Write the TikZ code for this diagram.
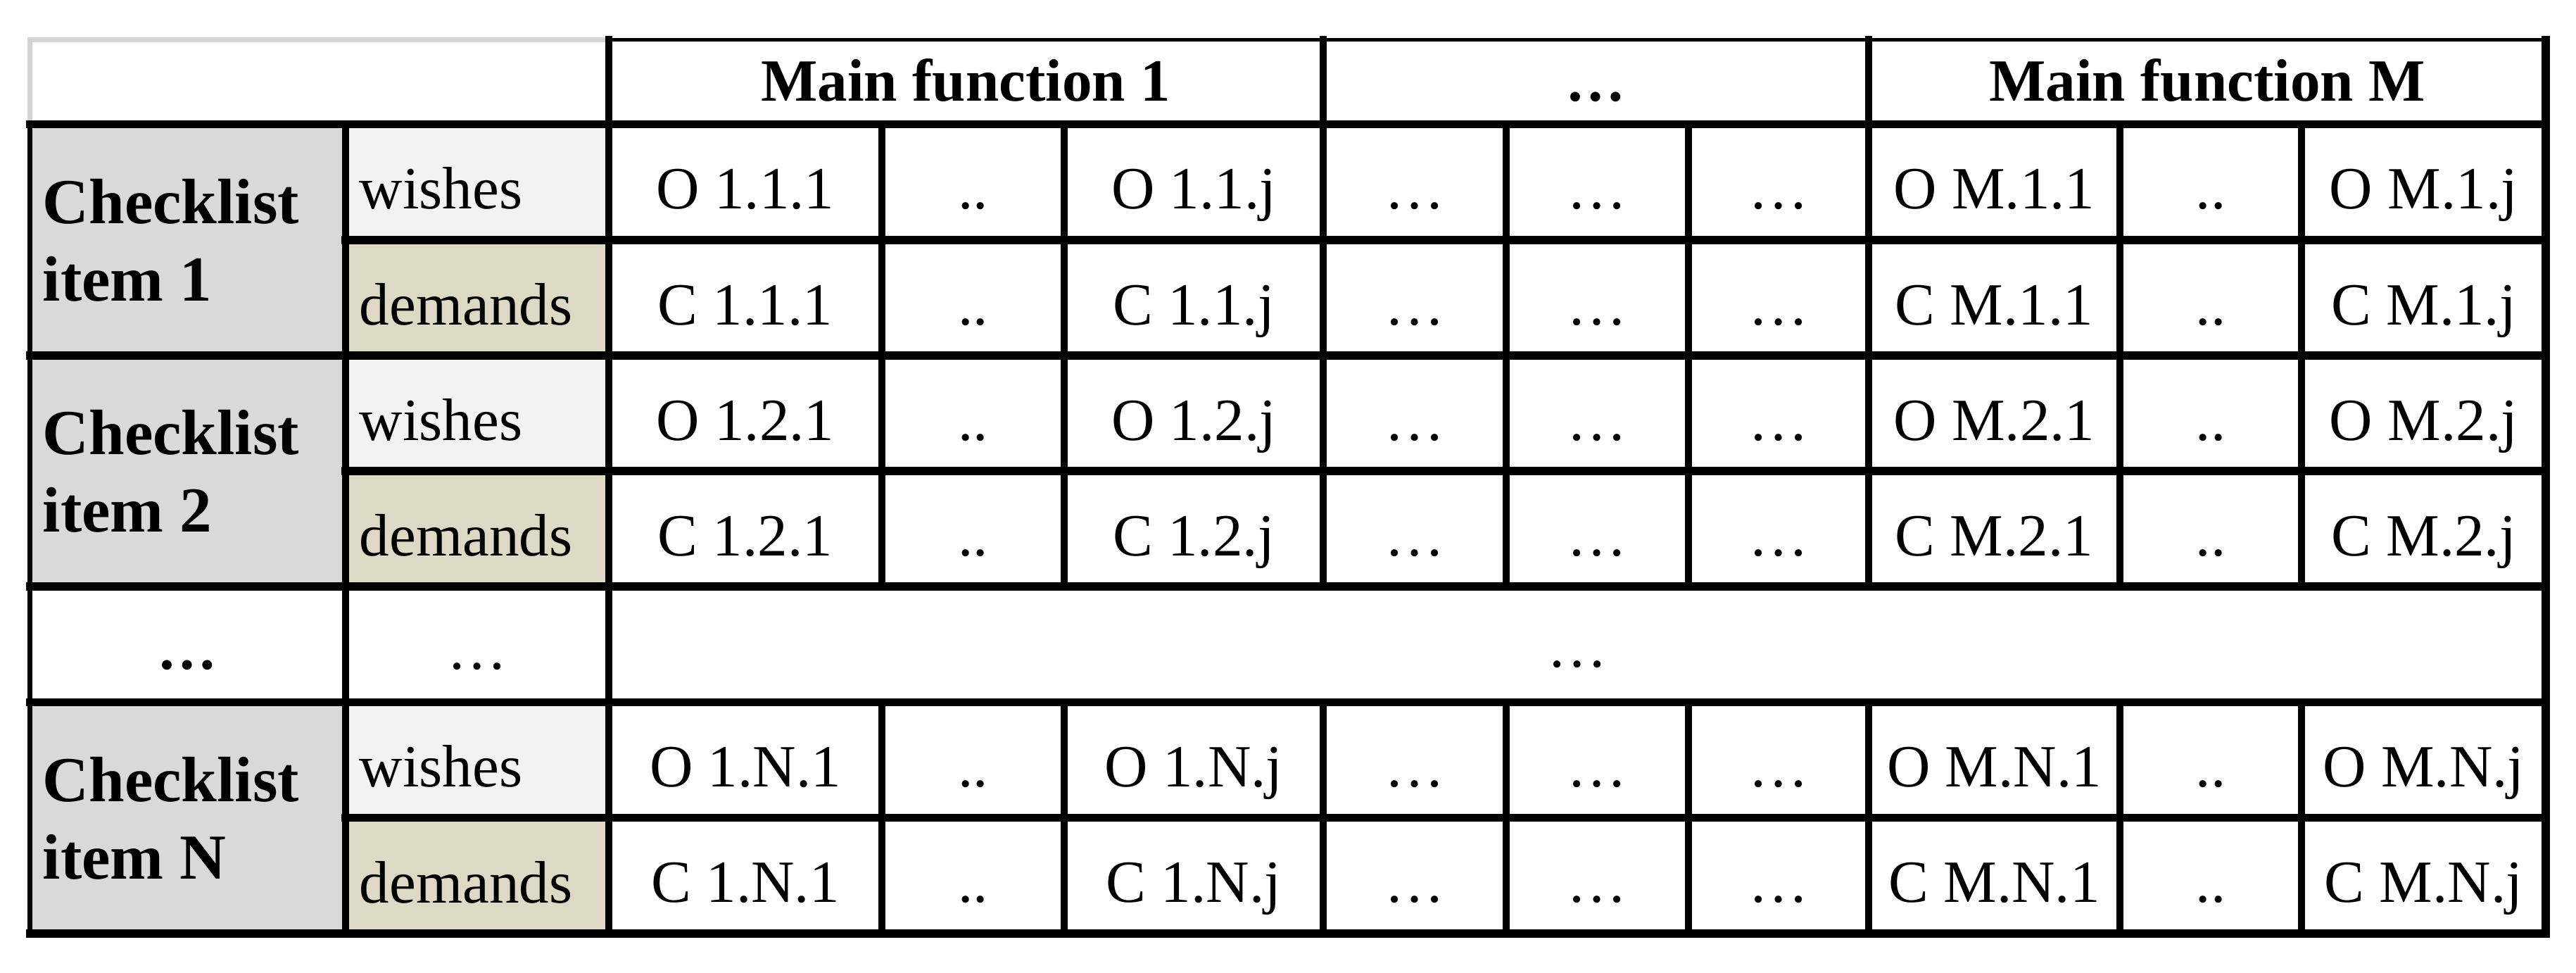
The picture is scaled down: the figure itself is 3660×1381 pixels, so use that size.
\documentclass[tikz,border=0pt]{standalone}
\usepackage{fontspec}
\setmainfont{Liberation Serif}
\definecolor{ckgray}{HTML}{D9D9D9}
\definecolor{wishgray}{HTML}{F2F2F2}
\definecolor{demtan}{HTML}{DDD9C4}
\definecolor{edgegray}{HTML}{D4D4D4}
\tikzset{
  cell/.style={anchor=base, inner sep=0pt, font=\fontsize{24.2}{29}\selectfont},
  hdr/.style={anchor=base, inner sep=0pt, font=\fontsize{24.2}{29}\selectfont\bfseries},
  ck/.style={anchor=base west, inner sep=0pt, font=\fontsize{25.9}{31}\selectfont\bfseries},
  lbl/.style={anchor=base west, inner sep=0pt, font=\fontsize{24.2}{29}\selectfont},
  hline/.style={line width=3.4pt, line cap=rect},
  vline/.style={line width=3.1pt, line cap=rect},
}
\begin{document}
\begin{tikzpicture}[x=0.01cm, y=-0.01cm]
\useasboundingbox (0,0) rectangle (3660,1381);
% column lines
\def\xa{42.5}\def\xb{491}\def\xc{865}\def\xd{1253}\def\xe{1512}\def\xf{1880}
\def\xg{2140}\def\xh{2399}\def\xi{2655}\def\xj{3012}\def\xk{3270}\def\xl{3617}
% row lines
\def\ya{56.5}\def\yb{176.5}\def\yc{341}\def\yd{505}\def\ye{669}\def\yf{833}
\def\yg{997.5}\def\yh{1161.5}\def\yi{1325.5}
% fills
\foreach \t/\m/\b in {\yb/\yc/\yd, \yd/\ye/\yf, \yg/\yh/\yi}{
  \fill[ckgray] (\xa,\t) rectangle (\xb,\b);
  \fill[wishgray] (\xb,\t) rectangle (\xc,\m);
  \fill[demtan] (\xb,\m) rectangle (\xc,\b);
}
% borders of the empty corner cell
\draw[edgegray, line width=2pt, line cap=rect] (\xa,\yb) -- (\xa,\ya) -- (\xc,\ya);
% outer borders
\draw[line width=1.7pt, line cap=rect] (\xc,\ya) -- (\xl,\ya);
\draw[line width=2pt, line cap=rect] (\xa,\yb) -- (\xa,\yi);
\draw[line width=3.4pt, line cap=rect] (\xl,\ya) -- (\xl,\yi);
% horizontal lines
\foreach \y in {\yb,\yd,\yf,\yg,\yi}{ \draw[hline] (\xa,\y) -- (\xl,\y); }
\foreach \y in {\yc,\ye,\yh}{ \draw[hline] (\xb,\y) -- (\xl,\y); }
% vertical lines
\draw[vline] (\xb,\yb) -- (\xb,\yi);
\foreach \x in {\xc,\xf,\xi}{ \draw[vline] (\x,\ya) -- (\x,\yf); \draw[vline] (\x,\yg) -- (\x,\yi); }
\draw[vline] (\xc,\yf) -- (\xc,\yg);
\foreach \x in {\xd,\xe,\xg,\xh,\xj,\xk}{ \draw[vline] (\x,\yb) -- (\x,\yf); \draw[vline] (\x,\yg) -- (\x,\yi); }
% header
\node[hdr] (mf1) at (1372,143) {Main function 1};
\node[hdr] (mfdots) at (2267,143) {…};
\node[hdr] (mfM) at (3136,143) {Main function M};
% left labels
\foreach \n/\t/\k in {1/\yb/1, 2/\yd/2, N/\yg/N}{
  \node[ck] (ckA\n) at (60,\t+140.5) {Checklist};
  \node[ck] (ckB\n) at (60,\t+250.5) {item \k};
}
\foreach \n/\t in {1/\yb, 2/\yd, N/\yg}{
  \node[lbl] (wish\n) at (510,\t+120) {wishes};
  \node[lbl] (dem\n) at (510,\t+284.5) {demands};
}
\node[hdr] (dotsA) at (266.5,950) {…};
\node[cell] (dotsB) at (678,950) {…};
\node[cell] (dotsC) at (2241,947) {…};
% data cells
\foreach \r/\yy/\L/\k in {1/296.5/O/1, 2/461/C/1, 3/625/O/2, 4/789/C/2, 6/1117.5/O/N, 7/1281.5/C/N}{
  \node[cell] (c\r-1) at (1059,\yy) {\L{} 1.\k.1};
  \node[cell] (c\r-2) at (1382.5,\yy) {..};
  \node[cell] (c\r-3) at (1696,\yy) {\L{} 1.\k.j};
  \node[cell] (c\r-4) at (2010,\yy) {…};
  \node[cell] (c\r-5) at (2269.5,\yy) {…};
  \node[cell] (c\r-6) at (2527,\yy) {…};
  \node[cell] (c\r-7) at (2833.5,\yy) {\L{} M.\k.1};
  \node[cell] (c\r-8) at (3141,\yy) {..};
  \node[cell] (c\r-9) at (3443.5,\yy) {\L{} M.\k.j};
}
\end{tikzpicture}
\end{document}
